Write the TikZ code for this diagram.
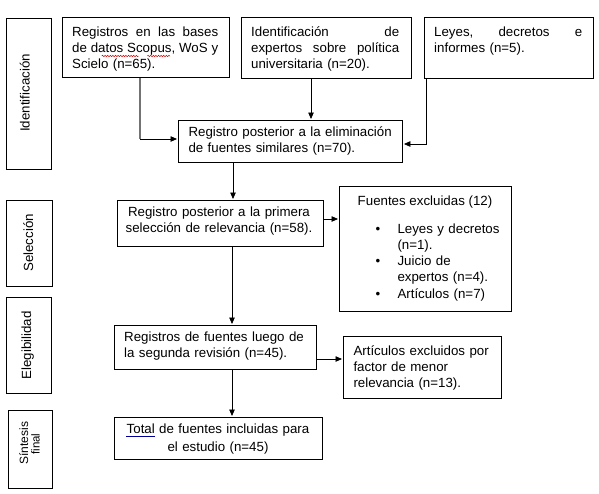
\documentclass[tikz,border=0pt]{standalone}
\usepackage{fontspec}
\setmainfont{Liberation Sans}
\usetikzlibrary{arrows.meta,calc,decorations.pathmorphing}
\newcommand{\bul}{\leavevmode\llap{\hbox to 22pt{•\hfil}}}
\newcommand{\jl}[2]{\leavevmode\hbox to #1{#2}}
\begin{document}
\begin{tikzpicture}[x=1pt,y=-1pt,
  box/.style={draw=black, line width=0.9pt, inner sep=0pt, anchor=north west},
  txt/.style={inner sep=0pt, anchor=base west, font=\fontsize{13.3}{16}\selectfont},
  ctxt/.style={inner sep=0pt, anchor=base, align=center, font=\fontsize{13.3}{16}\selectfont},
  lbl/.style={inner sep=0pt, anchor=base, rotate=90, font=\fontsize{13.3}{16}\selectfont},
  arr/.style={line width=0.8pt, -{Triangle[length=6.5pt,width=5.5pt]}, shorten >=1pt},
  lin/.style={line width=0.8pt},
  squig/.style={draw=red!85!black, line width=0.5pt, decorate, decoration={snake, amplitude=0.7pt, segment length=2.6pt}}]
\fill[white] (0,0) rectangle (599,493);
\useasboundingbox (0,0) rectangle (599,493);

% stage labels
\node[box, minimum width=45pt, minimum height=151pt] (l1) at (6,18) {};
\node[box, minimum width=45.5pt, minimum height=86pt] (l2) at (6,200) {};
\node[box, minimum width=45pt, minimum height=96pt] (l3) at (6,297) {};
\node[box, minimum width=44pt, minimum height=78pt] (l4) at (8,410) {};
\node[lbl] (tl1) at (29.5,93) {Identificación};
\node[lbl] (tl2) at (33,243) {Selección};
\node[lbl] (tl3) at (31.2,345.5) {Elegibilidad};
\node[lbl, font=\fontsize{12}{14}\selectfont] (tl4a) at (28,443) {Síntesis};
\node[lbl, font=\fontsize{11.5}{14}\selectfont] (tl4b) at (39.5,444) {final};

% boxes
\node[box, minimum width=167pt, minimum height=60pt] (b1) at (62,17) {};
\node[box, minimum width=170pt, minimum height=61pt] (b2) at (241,17) {};
\node[box, minimum width=169pt, minimum height=61pt] (b3) at (424,17) {};
\node[box, minimum width=224pt, minimum height=42pt] (b4) at (178,120) {};
\node[box, minimum width=206pt, minimum height=46pt] (b5) at (117,200) {};
\node[box, minimum width=172pt, minimum height=125pt] (ex) at (339,186) {};
\node[box, minimum width=202pt, minimum height=44pt] (b6) at (114,325) {};
\node[box, minimum width=158pt, minimum height=62pt] (b7) at (343,336) {};
\node[box, minimum width=208pt, minimum height=42pt] (b8) at (114,417) {};

% texts
\node[txt, text width=146pt] (t1) at (72,36.7) {\jl{146pt}{Registros\hfill en\hfill las\hfill bases}\\\jl{146pt}{de\hfill datos\hfill Scopus,\hfill WoS\hfill y}\\Scielo (n=65).};
\node[txt, text width=148pt] (t2) at (251,36.7) {\jl{148pt}{Identificación\hfill de}\\\jl{148pt}{expertos\hfill sobre\hfill política}\\universitaria (n=20).};
\node[txt, text width=148pt] (t3) at (434,36.7) {\jl{148pt}{Leyes,\hfill decretos\hfill e}\\informes (n=5).};
\node[txt, text width=212pt] (t4) at (188.3,136.7) {Registro posterior a la eliminación\\de fuentes similares (n=70).};
\node[ctxt, text width=204pt] (t5) at (219,216.7) {Registro posterior a la primera\\selección de relevancia (n=58).};
\node[ctxt] (t6h) at (425,205) {Fuentes excluidas (12)};
\node[txt, text width=110pt, font=\fontsize{13.3}{16.25}\selectfont] (t6) at (397.3,233)
  {\bul Leyes y decretos\\(n=1).\\\bul Juicio de\\expertos (n=4).\\\bul Artículos (n=7)};
\node[txt, text width=195pt] (t7) at (124,341.7) {Registros de fuentes luego de\\la segunda revisión (n=45).};
\node[txt, text width=145pt, font=\fontsize{13.3}{16.4}\selectfont] (t8) at (353.3,355) {Artículos excluidos por\\factor de menor\\relevancia (n=13).};
\node[ctxt, text width=206pt, font=\fontsize{13.3}{17.5}\selectfont] (t9) at (218,433.8) {Total de fuentes incluidas para\\el estudio (n=45)};

% proofing marks
\draw[squig] (101.7,56) -- (138.5,56);
\draw[squig] (147.3,56) -- (170,56);
\draw[draw=blue!60!black, line width=0.6pt] (126,436.5) -- (155,436.5);

% connectors
\coordinate (c1) at (140,139);
\coordinate (c2) at (311,0);
\coordinate (c3) at (426,144);
\coordinate (c4) at (233,0);
\coordinate (c5) at (0,219);
\coordinate (c6) at (232,0);
\coordinate (c7) at (0,359);
\draw[lin, draw=black!55, line width=1.2pt] (c1 |- b1.south) -- (c1);
\draw[arr] (c1) -- (b4.west |- c1);
\draw[arr] (c2 |- b2.south) -- (c2 |- b4.north);
\draw[arr] (c3 |- b3.south) |- (b4.east |- c3);
\draw[arr] (c4 |- b4.south) -- (c4 |- b5.north);
\draw[arr] (b5.east |- c5) -- (ex.west |- c5);
\draw[arr] (c6 |- b5.south) -- (c6 |- b6.north);
\draw[arr] (b6.east |- c7) -- (b7.west |- c7);
\draw[arr] (c6 |- b6.south) -- (c6 |- b8.north);
\end{tikzpicture}
\end{document}
